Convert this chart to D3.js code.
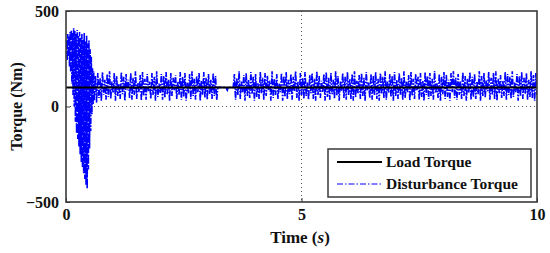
<!DOCTYPE html>
<html>
<head>
<meta charset="utf-8">
<script src="https://cdn.jsdelivr.net/npm/d3@7"></script>
<style>
  html, body { margin: 0; padding: 0; background: #fff; }
  svg { display: block; font-family: "Liberation Serif", "Times New Roman", serif; font-weight: bold; }
</style>
</head>
<body>
<svg id="chart" width="550" height="253"></svg>
<script>
// ---- data ----
const xTicks = [0, 5, 10];
const yTicks = [-500, 0, 500];
const loadTime = [0, 10];
const loadTorque = [100, 100];

// disturbance torque, sampled segments: start time, step, values
const transientT0 = 0, transientDt = 0.0125;
const transientVals = [300, 350, 240, 380, 260, 370, 210, 390, 180, 400, 120, 385, 60, 410, 0, 395, -80, 380, -140, 400,
  -170, 370, -210, 390, -250, 360, -290, 380, -320, 350, -350, 385, -380, 340, -410, 370, -430, 330, -330, 345,
  -220, 300, -130, 260, -40, 200, 10, 185, 30];
const band1T0 = 0.625, band1Dt = 0.025;
const band1Vals = [
  160, 20, 175, 45, 150, 30, 180, 60, 140, 35, 170, 50, 185, 40, 130, 70, 175, 30, 160, 55,
  120, 40, 180, 65, 155, 30, 170, 85, 140, 45, 175, 35, 150, 60, 185, 40, 125, 75, 165, 30,
  180, 55, 145, 35, 170, 80, 130, 40, 175, 60, 155, 30, 185, 50, 120, 70, 170, 35, 160, 45,
  180, 65, 140, 30, 175, 55, 150, 85, 165, 40, 130, 60, 180, 35, 155, 50, 175, 30, 125, 70,
  170, 40, 185, 55, 145, 35, 160, 75, 175, 30, 135, 60, 180, 45, 150, 35, 170, 65, 140, 40,
  175, 55, 160, 35];
const gapT0 = 3.225, gapDt = 0.025;
const gapVals = [100, 100, 100, 100, 100, 100, 100, 95, 85, 105, 100, 100, 100, 100];
const band2T0 = 3.575, band2Dt = 0.025;
const band2Vals = [
  170, 35, 150, 60, 185, 40, 130, 75, 165, 30, 175, 55, 140, 45, 180, 65, 155, 30, 170, 50,
  125, 40, 180, 70, 150, 35, 175, 55, 160, 85, 135, 30, 185, 45, 145, 60, 170, 40, 120, 75,
  175, 30, 160, 50, 180, 40, 140, 65, 170, 35, 155, 80, 185, 45, 130, 30, 175, 60, 150, 40,
  180, 55, 125, 35, 165, 70, 175, 40, 145, 30, 185, 60, 160, 45, 135, 75, 170, 30, 180, 50,
  150, 35, 175, 65, 140, 40, 185, 55, 160, 30, 130, 80, 175, 45, 155, 35, 180, 60, 145, 40,
  170, 30, 185, 50, 135, 70, 165, 40, 175, 55, 150, 30, 180, 85, 125, 45, 170, 35, 160, 60,
  180, 40, 145, 30, 175, 65, 155, 45, 185, 35, 130, 70, 170, 50, 160, 30, 180, 55, 140, 40,
  175, 60, 150, 35, 185, 45, 130, 75, 165, 30, 180, 55, 145, 40, 170, 85, 155, 35, 175, 50,
  135, 30, 180, 60, 160, 40, 175, 55, 145, 35, 185, 70, 125, 45, 170, 30, 155, 65, 180, 40,
  165, 50, 140, 30, 175, 75, 185, 45, 150, 35, 170, 60, 135, 40, 180, 55, 160, 30, 145, 70,
  180, 35, 155, 50, 170, 40, 130, 65, 185, 30, 160, 55, 175, 45, 140, 80, 180, 35, 150, 60,
  175, 40, 185, 30, 145, 70, 165, 45, 135, 55, 180, 35, 170, 60, 155, 40, 185, 50, 125, 75,
  170, 30, 160, 55, 180, 40, 150, 65, 175, 35, 140, 50, 185, 45, 165, 30, 175, 60];

(function () {
  const svg = d3.select("#chart");
  const M = { l: 66, r: 537, t: 11, b: 202 };
  const x = d3.scaleLinear().domain([0, 10]).range([M.l, M.r]);
  const y = d3.scaleLinear().domain([-500, 500]).range([M.b, M.t]);
  const FRAME = "#3a3a3a", FS = 16;

  const seg = (t0, dt, vals) => vals.map((v, i) => ({ t: t0 + i * dt, v }));
  const dist = [].concat(
    seg(transientT0, transientDt, transientVals),
    seg(band1T0, band1Dt, band1Vals),
    seg(gapT0, gapDt, gapVals),
    seg(band2T0, band2Dt, band2Vals)
  ).filter((d) => d.t <= 10);

  svg.append("defs").append("clipPath").attr("id", "plot")
    .append("rect").attr("x", M.l).attr("y", M.t).attr("width", M.r - M.l).attr("height", M.b - M.t);

  // dotted grid at x=5 and y=0
  const grid = svg.append("g").attr("stroke", "#555").attr("stroke-width", 1).attr("stroke-dasharray", "1,3");
  xTicks.filter((d) => d > 0 && d < 10).forEach((d) =>
    grid.append("line").attr("x1", x(d)).attr("x2", x(d)).attr("y1", M.t).attr("y2", M.b));
  yTicks.filter((d) => d > -500 && d < 500).forEach((d) =>
    grid.append("line").attr("x1", M.l).attr("x2", M.r).attr("y1", y(d)).attr("y2", y(d)));

  const line = d3.line().x((d) => x(d.t)).y((d) => y(d.v));
  svg.append("path").datum(dist).attr("clip-path", "url(#plot)")
    .attr("fill", "none").attr("stroke", "#0000ff").attr("stroke-width", 1.6)
    .attr("stroke-dasharray", "6,1.5,1.5,1.5").attr("d", line);

  const load = loadTime.map((t, i) => ({ t, v: loadTorque[i] }));
  svg.append("path").datum(load).attr("fill", "none").attr("stroke", "#000").attr("stroke-width", 2).attr("d", line);

  // axes: box + inward ticks
  const xAx = svg.append("g").attr("transform", `translate(0,${M.b})`)
    .call(d3.axisBottom(x).tickValues(xTicks).tickSizeInner(-4).tickSizeOuter(0).tickPadding(7));
  const yAx = svg.append("g").attr("transform", `translate(${M.l},0)`)
    .call(d3.axisLeft(y).tickValues(yTicks).tickSizeInner(-4).tickSizeOuter(0).tickPadding(7));
  [xAx, yAx].forEach((g) => {
    g.select(".domain").remove();
    g.selectAll("line").attr("stroke", FRAME);
    g.selectAll("text").attr("font-family", "Liberation Serif, serif").attr("font-weight", "bold")
      .attr("font-size", FS).attr("fill", "#111");
  });
  svg.append("rect").attr("x", M.l).attr("y", M.t).attr("width", M.r - M.l).attr("height", M.b - M.t)
    .attr("fill", "none").attr("stroke", FRAME).attr("stroke-width", 1.6);

  // axis titles
  const xt = svg.append("text").attr("x", 300).attr("y", 243).attr("text-anchor", "middle")
    .attr("font-size", FS + 1).attr("fill", "#111");
  xt.append("tspan").text("Time (");
  xt.append("tspan").attr("font-style", "italic").text("s");
  xt.append("tspan").text(")");
  svg.append("text").attr("transform", `translate(22,${(M.t + M.b) / 2}) rotate(-90)`)
    .attr("text-anchor", "middle").attr("font-size", FS).attr("fill", "#111").text("Torque (Nm)");

  // legend
  const lg = svg.append("g").attr("transform", "translate(328,149)");
  lg.append("rect").attr("width", 203).attr("height", 48).attr("fill", "#fff").attr("stroke", FRAME).attr("stroke-width", 1.5);
  const items = [
    { name: "Load Torque", color: "#000", w: 2, dash: null },
    { name: "Disturbance Torque", color: "#0000ff", w: 1, dash: "6,2,1.5,2" },
  ];
  items.forEach((it, i) => {
    const yy = 13 + i * 22;
    lg.append("line").attr("x1", 9).attr("x2", 54).attr("y1", yy).attr("y2", yy)
      .attr("stroke", it.color).attr("stroke-width", it.w).attr("stroke-dasharray", it.dash);
    lg.append("text").attr("x", 58).attr("y", yy + 5).attr("font-size", 15.5).attr("fill", "#111").text(it.name);
  });
})();
</script>
</body>
</html>
